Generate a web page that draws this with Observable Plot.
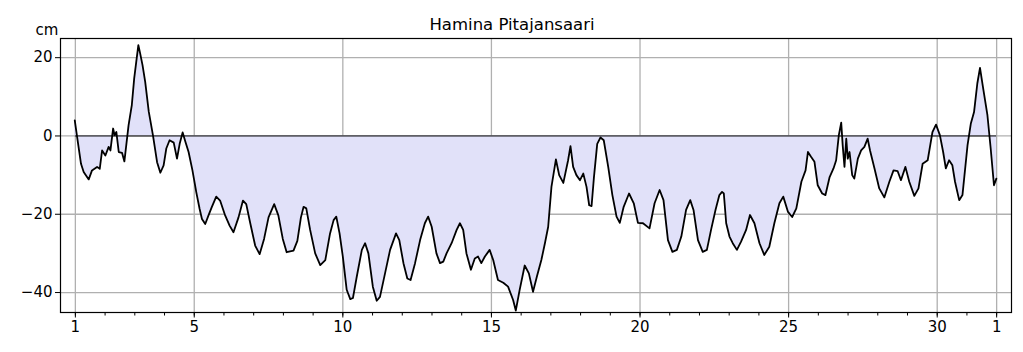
<!DOCTYPE html>
<html>
<head>
<meta charset="utf-8">
<script src="https://cdn.jsdelivr.net/npm/d3@7"></script>
<script src="https://cdn.jsdelivr.net/npm/@observablehq/plot@0.6"></script>
<style>
  html, body { margin: 0; padding: 0; background: #fff; }
  #chart svg { font-family: "DejaVu Sans", sans-serif; display: block; }
</style>
</head>
<body>
<div id="chart"></div>
<script>
const titleText = "Hamina Pitajansaari";
const unitLabel = "cm";

const days = [
  0.98, 1.06, 1.19, 1.28, 1.45, 1.56, 1.73, 1.82, 1.90, 2.01, 2.12, 2.18, 2.27, 2.32, 2.38, 2.46, 2.57, 2.65,
  2.79, 2.90, 2.98, 3.05, 3.12, 3.18, 3.26, 3.35, 3.47, 3.61, 3.75, 3.86, 3.97, 4.06, 4.17, 4.31, 4.42, 4.51,
  4.61, 4.70, 4.81, 4.94, 5.07, 5.18, 5.26, 5.37, 5.48, 5.59, 5.74, 5.87, 6.04, 6.19, 6.32, 6.49, 6.64, 6.75,
  6.88, 7.05, 7.20, 7.35, 7.50, 7.69, 7.83, 7.98, 8.11, 8.34, 8.47, 8.59,
  8.68, 8.77, 8.90, 9.07, 9.24, 9.41, 9.57, 9.69, 9.78, 9.89, 10.0, 10.13, 10.25, 10.34, 10.47, 10.64, 10.75,
  10.86, 11.01, 11.14, 11.25, 11.42, 11.59, 11.79, 11.90, 12.04, 12.17, 12.28, 12.43, 12.60, 12.76, 12.87,
  12.99, 13.15, 13.27, 13.38, 13.49, 13.66, 13.83, 13.94, 14.05, 14.16, 14.31, 14.44, 14.55, 14.66, 14.78,
  14.94, 15.06, 15.22, 15.40, 15.56, 15.73, 15.82, 15.95, 16.12, 16.26, 16.40, 16.53, 16.68,
  16.80, 16.91, 17.02, 17.17, 17.28, 17.42, 17.58, 17.66, 17.75, 17.86, 17.98, 18.09, 18.20, 18.29, 18.37,
  18.45, 18.56, 18.67, 18.78, 18.93, 19.07, 19.21, 19.32, 19.45, 19.63, 19.79, 19.93, 20.10, 20.32, 20.49,
  20.66, 20.79, 20.94, 21.09, 21.24, 21.39, 21.55, 21.69, 21.80, 21.95, 22.11, 22.25, 22.39, 22.54, 22.67,
  22.76, 22.82, 22.90, 23.01, 23.12, 23.26, 23.40, 23.57, 23.70, 23.85, 24.02, 24.18, 24.35, 24.52, 24.69, 24.82,
  24.98, 25.12, 25.26, 25.43, 25.57, 25.65, 25.76, 25.87, 25.98, 26.13, 26.24, 26.38, 26.51, 26.60, 26.69,
  26.77, 26.82, 26.88, 26.94, 26.99, 27.05, 27.14, 27.21, 27.33, 27.44, 27.55, 27.66, 27.74, 27.89, 28.05,
  28.22, 28.39, 28.53, 28.67, 28.78, 28.93, 29.06, 29.23, 29.37, 29.51, 29.68, 29.84, 29.96, 30.09, 30.20,
  30.29, 30.40, 30.51, 30.60, 30.74, 30.85, 31.02, 31.13, 31.24, 31.35, 31.44, 31.54, 31.69, 31.80, 31.91, 31.99
];

const levels = [
  4.0, -0.3, -7.1, -9.2, -11.1, -8.8, -7.9, -8.4, -3.7, -5.0, -2.8, -3.7, 1.9, 0.2, 1.0, -4.1, -4.3, -6.5,
  2.7, 7.9, 14.7, 19.0, 23.2, 21.1, 18.1, 13.8, 6.2, 0.2, -6.7, -9.4, -7.5, -3.2, -1.1, -1.7, -5.8, -2.0,
  0.9, -1.4, -4.1, -8.8, -14.4, -18.6, -21.2, -22.5, -20.3, -18.2, -15.5, -16.5, -20.3, -22.9, -24.6, -20.8, -16.5, -17.4,
  -22.1, -28.0, -30.2, -26.3, -20.8, -17.4, -20.3, -26.3, -29.7, -29.3, -26.8, -20.8,
  -18.1, -18.5, -24.0, -30.0, -33.0, -31.7, -24.9, -21.5, -20.6, -24.9, -30.8, -39.3, -41.7, -41.4, -35.9, -29.1, -27.4,
  -30.0, -38.5, -42.1, -41.1, -35.1, -29.1, -24.9, -26.6, -32.5, -36.4, -36.8, -32.5, -26.6, -22.3, -20.6,
  -23.2, -30.0, -32.5, -32.1, -30.0, -27.4, -24.0, -22.3, -24.0, -30.0, -34.2, -31.3, -30.8, -32.5, -30.8,
  -29.1, -31.7, -36.8, -37.5, -38.5, -41.9, -44.6, -39.3, -33.1, -35.1, -39.8, -35.9, -31.7,
  -27.4, -23.2, -13.0, -6.0, -10.0, -12.0, -6.2, -2.6, -7.9, -10.0, -11.3, -9.6, -13.0, -17.7, -17.9,
  -10.5, -2.0, -0.4, -1.1, -7.9, -15.1, -20.6, -22.2, -18.1, -14.7, -17.2, -22.2, -22.3, -23.6, -17.2,
  -13.8, -16.4, -26.6, -29.6, -29.1, -25.7, -18.9, -16.4, -18.9, -26.6, -29.6, -29.1, -24.0, -18.9, -15.1,
  -14.3, -14.7, -22.3, -25.7, -27.4, -29.1, -27.0, -24.0, -20.2, -22.3, -27.4, -30.4, -28.3, -22.3, -17.2, -15.5,
  -19.4, -20.7, -18.5, -11.7, -8.8, -4.1, -5.4, -6.6, -12.6, -14.7, -15.1, -10.5, -8.3, -6.2, 0.2,
  3.4, -2.4, -7.9, -0.7, -5.8, -4.1, -10.0, -10.9, -5.8, -3.7, -2.8, -0.7, -3.7, -8.3, -13.4,
  -15.7, -11.7, -8.8, -9.0, -11.3, -7.9, -11.7, -15.3, -13.4, -7.1, -6.2, 1.0, 2.9, 0.2, -4.1,
  -8.3, -6.2, -7.5, -11.7, -16.4, -15.1, -2.4, 3.1, 6.1, 13.4, 17.4, 12.5, 5.3, -3.2, -12.6, -10.9
];

const xTickValues = [1, 5, 10, 15, 20, 25, 30, 32];
const xTickLabels = ["1", "5", "10", "15", "20", "25", "30", "1"];
const minorDays = d3.range(1, 33);
const yTickValues = [-40, -20, 0, 20];

const data = days.map((d, i) => ({day: d, level: levels[i]}));
const labelOf = new Map(xTickValues.map((v, i) => [v, xTickLabels[i]]));
const fmtY = d => (d < 0 ? "\u2212" + Math.abs(d) : String(d));

const chart = Plot.plot({
  width: 1023,
  height: 352,
  marginLeft: 60,
  marginRight: 12,
  marginTop: 38,
  marginBottom: 40,
  style: {fontFamily: "DejaVu Sans, sans-serif", fontSize: "15px", color: "black", background: "white"},
  x: {domain: [0.5, 32.5], label: null},
  y: {domain: [-45.1, 24.9], label: null},
  marks: [
    Plot.gridX({ticks: xTickValues, stroke: "#b0b0b0", strokeOpacity: 1, strokeWidth: 1.3}),
    Plot.gridY({ticks: yTickValues, stroke: "#b0b0b0", strokeOpacity: 1, strokeWidth: 1.3}),
    Plot.areaY(data, {x: "day", y1: 0, y2: "level", fill: "#e1e1f9", fillOpacity: 1}),
    Plot.ruleY([0], {x1: 1, x2: 32, stroke: "black", strokeWidth: 1}),
    Plot.line(data, {x: "day", y: "level", stroke: "black", strokeWidth: 1.8, strokeLinejoin: "round"}),
    Plot.frame({stroke: "black", strokeWidth: 1.2}),
    Plot.axisX({ticks: minorDays, tickSize: 3.5, tickFormat: () => "", label: null, stroke: "black", strokeWidth: 1}),
    Plot.axisX({ticks: xTickValues, tickSize: 5.5, tickPadding: 3, tickFormat: d => labelOf.get(d), fontSize: 15, label: null, stroke: "black", strokeWidth: 1}),
    Plot.axisY({ticks: yTickValues, tickSize: 5, tickPadding: 3, tickFormat: fmtY, fontSize: 15, label: null, stroke: "black", strokeWidth: 1}),
    Plot.text([titleText], {frameAnchor: "top", dx: -24, dy: -20, fontSize: 16.5, fill: "black"}),
    Plot.text([unitLabel], {frameAnchor: "top-left", dx: -25, dy: -14, fontSize: 15, fill: "black"})
  ]
});

document.getElementById("chart").appendChild(chart);
</script>
</body>
</html>
